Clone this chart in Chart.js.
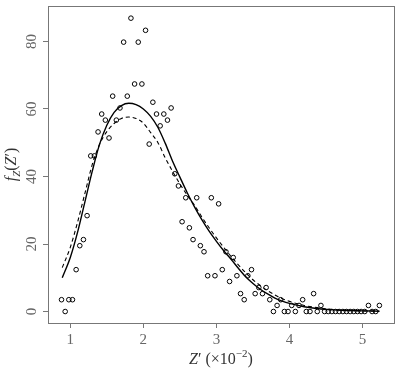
<!DOCTYPE html>
<html>
<head>
<meta charset="utf-8">
<script src="https://cdn.jsdelivr.net/npm/chart.js@4.4.0/dist/chart.umd.min.js"></script>
<style>
  html, body { margin: 0; padding: 0; background: #fff; }
</style>
</head>
<body>
<canvas id="chart" width="399" height="370"></canvas>
<script>
// histogram bin centres (Z' x 10^-2) and observed density
var binX = [0.88, 0.93, 0.98, 1.03, 1.08, 1.13, 1.18, 1.23, 1.28, 1.33,
            1.38, 1.43, 1.48, 1.53, 1.58, 1.63, 1.68, 1.73, 1.78, 1.83,
            1.88, 1.93, 1.98, 2.03, 2.08, 2.13, 2.18, 2.23, 2.28, 2.33,
            2.38, 2.43, 2.48, 2.53, 2.58, 2.63, 2.68, 2.73, 2.78, 2.83,
            2.88, 2.93, 2.98, 3.03, 3.08, 3.13, 3.18, 3.23, 3.28, 3.33,
            3.38, 3.43, 3.48, 3.53, 3.58, 3.63, 3.68, 3.73, 3.78, 3.83,
            3.88, 3.93, 3.98, 4.03, 4.08, 4.13, 4.18, 4.23, 4.28, 4.33,
            4.38, 4.43, 4.48, 4.53, 4.58, 4.63, 4.68, 4.73, 4.78, 4.83,
            4.88, 4.93, 4.98, 5.03, 5.08, 5.13, 5.18, 5.23];
var density = [3.5, 0, 3.5, 3.5, 12.4, 19.5, 21.3, 28.4, 46.1, 46.1,
               53.2, 58.5, 56.7, 51.4, 63.8, 56.7, 60.3, 79.8, 63.8, 86.9,
               67.4, 79.8, 67.4, 83.3, 49.6, 62.0, 58.5, 55.0, 58.5, 56.7,
               60.3, 40.8, 37.2, 26.6, 33.7, 24.8, 21.3, 33.7, 19.5, 17.7,
               10.6, 33.7, 10.6, 31.9, 12.4, 17.7, 8.9, 16.0, 10.6, 5.3,
               3.5, 10.6, 12.4, 5.3, 7.1, 5.3, 7.1, 3.5, 0, 1.8,
               3.5, 0, 0, 1.8, 0, 1.8, 3.5, 0, 0, 5.3,
               0, 1.8, 0, 0, 0, 0, 0, 0, 0, 0,
               0, 0, 0, 0, 1.8, 0, 0, 1.8];

// fitted curves
var fitX = [0.89, 1.0, 1.1, 1.2, 1.3, 1.4, 1.5, 1.6, 1.7, 1.8,
            1.9, 2.0, 2.1, 2.2, 2.3, 2.4, 2.5, 2.6, 2.7, 2.8,
            2.9, 3.0, 3.1, 3.2, 3.3, 3.4, 3.5, 3.6, 3.7, 3.8,
            3.9, 4.0, 4.2, 4.4, 4.6, 4.8, 5.0, 5.23];
var fitSolid = [10, 16, 23.5, 32.5, 41.5, 49.5, 55.2, 59, 61, 61.7,
                61.3, 60.0, 57.8, 54.5, 49.8, 44.5, 39.8, 35.2, 31, 27.2,
                23.8, 20.8, 18.0, 15.5, 12.8, 10.3, 8.3, 6.6, 5.2, 4.0,
                3.1, 2.4, 1.4, 0.8, 0.5, 0.3, 0.2, 0.1];
var fitDashed = [13, 19, 26.5, 35, 43.5, 49.5, 53.3, 55.7, 57.2, 57.6,
                 57.2, 55.8, 53, 50, 45.5, 41.5, 37.8, 34.5, 31.5, 28,
                 24.8, 21.8, 19.0, 16.3, 13.8, 11.5, 9.4, 7.7, 6.2, 4.9,
                 3.8, 3.0, 1.8, 1.1, 0.6, 0.35, 0.2, 0.1];

var xTicks = [1, 2, 3, 4, 5];
var yTicks = [0, 20, 40, 60, 80];

function pts(xs, ys) {
  return xs.map(function(x, i) { return { x: x, y: ys[i] }; });
}

var serif = "'Liberation Serif', 'DejaVu Serif', serif";

// frame, rotated y tick labels and axis titles
var decorations = {
  id: 'decorations',
  afterDraw: function(chart) {
    var ctx = chart.ctx, a = chart.chartArea;
    ctx.save();
    ctx.strokeStyle = '#777';
    ctx.lineWidth = 1;
    ctx.strokeRect(a.left + 0.5, a.top + 0.5, a.right - a.left, a.bottom - a.top);

    ctx.fillStyle = '#666';
    ctx.font = '15px ' + serif;
    ctx.textAlign = 'center';
    ctx.textBaseline = 'middle';
    yTicks.forEach(function(v) {
      var y = chart.scales.y.getPixelForValue(v);
      ctx.save();
      ctx.translate(32, y);
      ctx.rotate(-Math.PI / 2);
      ctx.fillText(String(v), 0, 0);
      ctx.restore();
    });

    function drawParts(parts, cx, base) {
      var w = 0;
      parts.forEach(function(p) { ctx.font = p.f; w += ctx.measureText(p.t).width; });
      var x = cx - w / 2;
      ctx.textAlign = 'left';
      ctx.textBaseline = 'alphabetic';
      parts.forEach(function(p) {
        ctx.font = p.f;
        ctx.fillText(p.t, x, base + (p.dy || 0));
        x += ctx.measureText(p.t).width;
      });
    }

    ctx.fillStyle = '#333';
    var big = '16px ' + serif, ital = 'italic 16px ' + serif, small = '11px ' + serif;
    drawParts([
      { t: 'Z', f: ital }, { t: '\u2032', f: big }, { t: ' (\u00d710', f: big },
      { t: '\u22122', f: small, dy: -7 }, { t: ')', f: big }
    ], (a.left + a.right) / 2, 364);

    ctx.save();
    ctx.translate(16, (a.top + a.bottom) / 2);
    ctx.rotate(-Math.PI / 2);
    drawParts([
      { t: 'f', f: ital }, { t: 'Z', f: 'italic 11px ' + serif, dy: 4 },
      { t: '(', f: big }, { t: 'Z', f: ital }, { t: '\u2032', f: big }, { t: ')', f: big }
    ], 0, 0);
    ctx.restore();
    ctx.restore();
  }
};

new Chart(document.getElementById('chart').getContext('2d'), {
  type: 'scatter',
  data: {
    datasets: [
      {
        label: 'observed',
        data: pts(binX, density),
        pointStyle: 'circle',
        pointRadius: 2.3,
        borderColor: '#000',
        backgroundColor: 'rgba(0,0,0,0)',
        pointBorderWidth: 1
      },
      {
        label: 'fit 1',
        data: pts(fitX, fitSolid),
        showLine: true,
        borderColor: '#000',
        borderWidth: 1.4,
        pointRadius: 0,
        cubicInterpolationMode: 'monotone'
      },
      {
        label: 'fit 2',
        data: pts(fitX, fitDashed),
        showLine: true,
        borderColor: '#000',
        borderWidth: 1.1,
        borderDash: [4, 3],
        pointRadius: 0,
        cubicInterpolationMode: 'monotone'
      }
    ]
  },
  options: {
    responsive: false,
    animation: false,
    layout: { padding: { top: 6, right: 4, left: 0, bottom: 0 } },
    plugins: { legend: { display: false }, tooltip: { enabled: false } },
    scales: {
      x: {
        type: 'linear',
        min: 0.695,
        max: 5.43,
        afterBuildTicks: function(s) { s.ticks = xTicks.map(function(v) { return { value: v }; }); },
        afterFit: function(s) { s.height = 47; },
        border: { display: false },
        grid: { drawOnChartArea: false, drawTicks: true, tickLength: 5, color: '#777' },
        ticks: { font: { family: serif, size: 15 }, color: '#666', padding: 3, maxRotation: 0 }
      },
      y: {
        type: 'linear',
        min: -3.4,
        max: 90.5,
        afterBuildTicks: function(s) { s.ticks = yTicks.map(function(v) { return { value: v }; }); },
        afterFit: function(s) { s.width = 48; },
        border: { display: false },
        grid: { drawOnChartArea: false, drawTicks: true, tickLength: 5, color: '#777' },
        ticks: { display: false }
      }
    }
  },
  plugins: [decorations]
});
</script>
</body>
</html>
